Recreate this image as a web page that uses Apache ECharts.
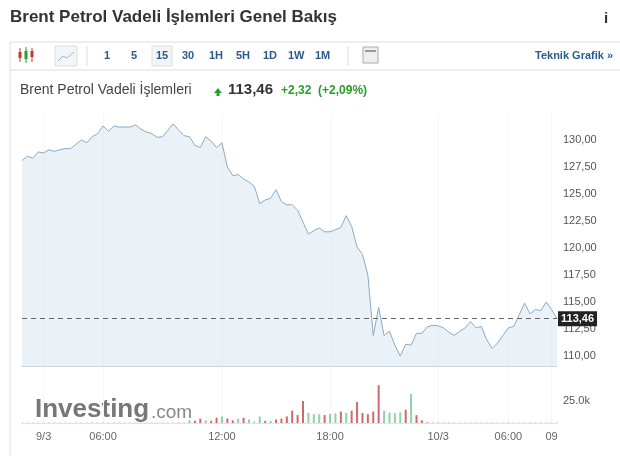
<!DOCTYPE html>
<html><head><meta charset="utf-8">
<script src="https://cdn.jsdelivr.net/npm/echarts@6/dist/echarts.min.js"></script>
<style>html,body{margin:0;padding:0;background:#fff}#c{width:620px;height:456px}</style>
</head><body><div id="c"></div>
<script>
const prices = [128.1,128.5,128.3,128.9,128.8,129.1,128.95,129.1,129.2,129.2,129.6,130.0,129.75,130.3,130.6,131.3,130.8,131.3,131.2,131.2,
131.2,131.4,131.0,130.75,130.6,130.25,130.3,130.9,131.5,130.9,130.4,130.3,129.5,129.3,130.3,129.9,129.3,129.75,127.5,126.7,
126.8,126.4,126.1,125.7,124.1,124.45,124.6,125.4,124.3,124.0,124.0,123.5,122.4,121.3,121.6,121.85,121.5,121.5,121.7,121.9,
123.0,122.0,120.1,119.4,117.5,111.9,114.5,111.9,112.3,111.0,110.0,111.1,111.0,112.1,112.1,112.7,112.85,112.8,112.6,112.2,
111.9,112.3,112.6,113.2,112.6,112.75,111.5,110.7,111.2,111.9,112.6,112.75,113.8,114.9,113.9,114.3,114.2,115.0,114.3,113.46];
const volumes = [300,300,300,300,300,300,300,300,300,300,300,300,300,300,300,300,300,300,300,300,
300,300,300,300,300,300,300,300,300,300,300,3000,2500,5000,3000,2500,6000,7500,5000,
3000,5000,6000,4000,1500,7500,2500,2500,4000,5000,7500,14000,9000,25000,11500,10000,10000,9000,10500,11000,
13000,11500,14000,24000,11500,10000,13000,43000,14000,12000,11000,12000,15000,33000,9000,3000,800,400,400,400,400,
300,300,300,300,300,300,300,400,300,300,300,300,300,300,400,300,300,300,300,300];
const volUp = [0,0,0,0,0,0,0,0,0,0,0,0,0,0,0,0,0,0,0,0,0,0,0,0,0,0,0,0,0,0,0,1,0,0,1,0,0,1,0,
0,1,0,1,1,1,0,1,0,0,0,0,0,0,1,1,1,0,1,1,0,1,0,0,0,0,0,0,1,1,1,1,0,1,0,0,0,0,0,0,0,
0,0,0,0,0,0,0,0,0,0,0,0,0,0,0,0,0,0,0,0];
const tickLabels = {4:'9/3',15:'06:00',37:'12:00',57:'18:00',77:'10/3',90:'06:00',98:'09'};
const yTicks = [110,112.5,115,117.5,120,122.5,125,127.5,130];
const lastPrice = 113.46;
const cats = prices.map((_, i) => String(i));
const fmt = v => v.toFixed(2).replace('.', ',');
const F = 'Liberation Sans, Arial, sans-serif';
const chart = echarts.init(document.getElementById('c'));
const t = (x,y,text,st) => ({type:'text',left:x,top:y,style:Object.assign({text,font:'12px '+F,fill:'#333'},st)});
chart.setOption({
  animation:false,
  textStyle:{fontFamily:F},
  grid:[{left:22,right:63,top:113,height:270},{left:22,right:63,top:379,height:44}],
  xAxis:[
    {type:'category',gridIndex:0,data:cats,boundaryGap:false,axisLine:{show:false},axisTick:{show:false},axisLabel:{show:false},
     splitLine:{show:true,interval:(i)=>tickLabels[i]!==undefined,lineStyle:{color:'#f6f6f6'}}},
    {type:'category',gridIndex:1,data:cats,boundaryGap:false,axisLine:{show:true,lineStyle:{color:'#ddd',type:'dotted'}},axisTick:{show:false},
     axisLabel:{interval:(i)=>tickLabels[i]!==undefined,formatter:(v)=>tickLabels[+v]||'',color:'#666',fontSize:11,margin:8},
     splitLine:{show:true,interval:(i)=>tickLabels[i]!==undefined,lineStyle:{color:'#f6f6f6'}}}
  ],
  yAxis:[
    {type:'value',gridIndex:0,position:'right',min:107.5,max:132.5,interval:2.5,axisLine:{show:false},axisTick:{show:false},
     splitLine:{show:false},axisLabel:{color:'#555',fontSize:11,margin:6,formatter:(v)=>yTicks.indexOf(v)>=0?fmt(v):''}},
    {type:'value',gridIndex:1,position:'right',min:0,max:50000,interval:25000,axisLine:{show:false},axisTick:{show:false},
     splitLine:{show:false},axisLabel:{color:'#555',fontSize:11,margin:6,formatter:(v)=>v===25000?'25.0k':''}}
  ],
  series:[
    {type:'line',xAxisIndex:0,yAxisIndex:0,data:prices,symbol:'none',lineStyle:{color:'#8aaac4',width:1},
     areaStyle:{color:'rgba(205,222,236,0.6)',origin:109.07},
     markLine:{silent:true,symbol:'none',data:[
       {yAxis:lastPrice,lineStyle:{color:'#666',type:[5,4],width:1},
        label:{show:true,position:'end',formatter:fmt(lastPrice),color:'#fff',backgroundColor:'#222',padding:[2,3],fontSize:11,fontWeight:'bold',distance:1}},
       {yAxis:109.07,lineStyle:{color:'#c8d6e2',type:'solid',width:1},label:{show:false}}
     ]}},
    {type:'bar',xAxisIndex:1,yAxisIndex:1,barWidth:2,
     data:volumes.map((v,i)=>({value:v,itemStyle:{color:volUp[i]?'#8fd1a8':'#d06a6a'}}))}
  ],
  graphic:[
    t(10,9,'Brent Petrol Vadeli İşlemleri Genel Bakış',{font:'bold 17px '+F,fill:'#333'}),
    t(604,11,'i',{font:'bold 15px '+F,fill:'#333'}),
    {type:'line',shape:{x1:10,y1:42,x2:620,y2:42},style:{stroke:'#ddd'}},
    {type:'line',shape:{x1:10,y1:70,x2:620,y2:70},style:{stroke:'#ddd'}},
    {type:'line',shape:{x1:10,y1:42,x2:10,y2:456},style:{stroke:'#ddd'}},
    {type:'line',shape:{x1:20,y1:48,x2:20,y2:62},style:{stroke:'#c0392b'}},
    {type:'rect',shape:{x:18.5,y:52,width:3,height:6},style:{fill:'#c0392b'}},
    {type:'line',shape:{x1:26,y1:47,x2:26,y2:63},style:{stroke:'#2a9d2a'}},
    {type:'rect',shape:{x:24.5,y:51,width:3,height:8},style:{fill:'#2a9d2a'}},
    {type:'line',shape:{x1:32,y1:48,x2:32,y2:62},style:{stroke:'#c0392b'}},
    {type:'rect',shape:{x:30.5,y:51,width:3,height:6},style:{fill:'#c0392b'}},
    {type:'rect',shape:{x:55,y:46,width:22,height:20},style:{fill:'#f3f6f9',stroke:'#ddd'}},
    {type:'polyline',shape:{points:[[58,61],[63,56],[67,58],[74,52]]},style:{stroke:'#9cb8d0',fill:null}},
    {type:'line',shape:{x1:87,y1:46,x2:87,y2:66},style:{stroke:'#ddd'}},
    t(104,50,'1',{font:'bold 11px '+F,fill:'#2a5a8c'}),
    t(131,50,'5',{font:'bold 11px '+F,fill:'#2a5a8c'}),
    {type:'rect',shape:{x:152,y:46,width:20,height:20},style:{fill:'#f3f6f9',stroke:'#ddd'}},
    t(156,50,'15',{font:'bold 11px '+F,fill:'#2a5a8c'}),
    t(182,50,'30',{font:'bold 11px '+F,fill:'#2a5a8c'}),
    t(209,50,'1H',{font:'bold 11px '+F,fill:'#2a5a8c'}),
    t(236,50,'5H',{font:'bold 11px '+F,fill:'#2a5a8c'}),
    t(263,50,'1D',{font:'bold 11px '+F,fill:'#2a5a8c'}),
    t(288,50,'1W',{font:'bold 11px '+F,fill:'#2a5a8c'}),
    t(315,50,'1M',{font:'bold 11px '+F,fill:'#2a5a8c'}),
    {type:'line',shape:{x1:348,y1:46,x2:348,y2:66},style:{stroke:'#ddd'}},
    {type:'rect',shape:{x:363,y:47,width:15,height:16},style:{fill:'#eee',stroke:'#aaa'}},
    {type:'rect',shape:{x:365,y:50,width:11,height:2},style:{fill:'#999'}},
    t(535,50,'Teknik Grafik »',{font:'bold 11px '+F,fill:'#2a5a8c'}),
    t(20,83,'Brent Petrol Vadeli İşlemleri',{font:'14px '+F,fill:'#444'}),
    {type:'polygon',shape:{points:[[214,93],[218,88],[222,93]]},style:{fill:'#2a9d2a'}},
    {type:'rect',shape:{x:216.5,y:92,width:3,height:4},style:{fill:'#2a9d2a'}},
    t(228,82,'113,46',{font:'bold 15px '+F,fill:'#333'}),
    t(281,85,'+2,32  (+2,09%)',{font:'bold 12px '+F,fill:'#2a9d2a'}),
    t(35,397,'Investing',{font:'bold 26px '+F,fill:'#777'}),
    t(151,403,'.com',{font:'19px '+F,fill:'#888'})
  ]
});
</script></body></html>
